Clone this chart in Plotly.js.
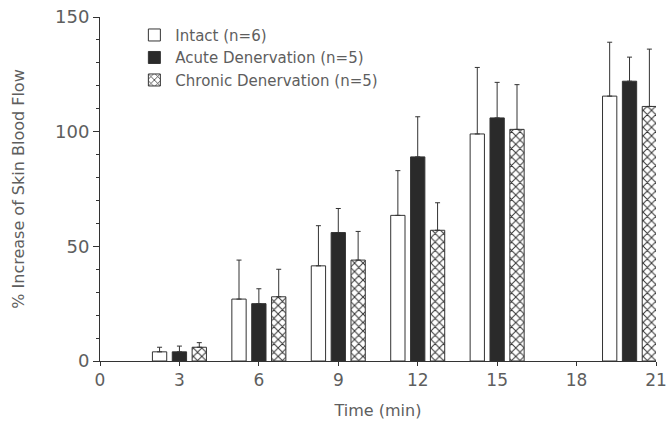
<!DOCTYPE html>
<html>
<head>
<meta charset="utf-8">
<script src="https://cdn.plot.ly/plotly-3.0.1.min.js"></script>
<style>
html,body{margin:0;padding:0;background:#fff;}
#chart{width:668px;height:423px;}
</style>
</head>
<body>
<div id="chart"></div>
<script>
// Data
var times = [3, 6, 9, 12, 15, 20];
var intactMean = [4, 27, 41.5, 63.5, 99, 115.5];
var intactErr = [2, 17, 17.5, 19.5, 29, 23.5];
var acuteMean = [4, 25, 56, 89, 106, 122];
var acuteErr = [2.5, 6.5, 10.5, 17.5, 15.5, 10.5];
var chronicMean = [6, 28, 44, 57, 101, 111];
var chronicErr = [2, 12, 12.5, 12, 19.5, 25];
var seriesNames = ['Intact (n=6)', 'Acute Denervation (n=5)', 'Chronic Denervation (n=5)'];
var xTickVals = [0, 3, 6, 9, 12, 15, 18, 21];
var yTickVals = [0, 50, 100, 150];

var textColor = '#5e5e5e';
var lineColor = '#333333';
var fontFamily = 'DejaVu Sans, sans-serif';

function errBar(arr) {
  return {type: 'data', array: arr, arrayminus: arr.map(function(){return 0;}), symmetric: false,
          visible: true, color: lineColor, thickness: 1, width: 2.5};
}

var traces = [
  {type: 'bar', name: seriesNames[0], x: times, y: intactMean, error_y: errBar(intactErr),
   marker: {color: '#ffffff', line: {color: lineColor, width: 1}}},
  {type: 'bar', name: seriesNames[1], x: times, y: acuteMean, error_y: errBar(acuteErr),
   marker: {color: '#2a2a2a', line: {color: lineColor, width: 1}}},
  {type: 'bar', name: seriesNames[2], x: times, y: chronicMean, error_y: errBar(chronicErr),
   marker: {color: '#ffffff', line: {color: lineColor, width: 1},
            pattern: {shape: 'x', bgcolor: '#ffffff', fgcolor: '#333333', size: 6, solidity: 0.3}}}
];

var layout = {
  width: 668, height: 423,
  margin: {l: 100, r: 12, t: 17, b: 62},
  paper_bgcolor: '#ffffff', plot_bgcolor: '#ffffff',
  font: {family: fontFamily, color: textColor, size: 16},
  barmode: 'group',
  bargap: 0.25,
  bargroupgap: 0.28,
  showlegend: true,
  legend: {x: 0.06, y: 0.995, xanchor: 'left', yanchor: 'top', bgcolor: 'rgba(0,0,0,0)',
           font: {family: fontFamily, size: 15, color: textColor}, tracegroupgap: 0, itemwidth: 32},
  xaxis: {
    range: [0, 21], tickvals: xTickVals, ticktext: xTickVals.map(String),
    showgrid: false, zeroline: false, showline: true, linecolor: lineColor, linewidth: 1,
    ticks: 'outside', ticklen: 4, tickcolor: lineColor, ticklabeloverflow: 'allow',
    tickfont: {family: fontFamily, size: 17, color: textColor},
    title: {text: 'Time (min)', font: {family: fontFamily, size: 16, color: textColor}, standoff: 15}
  },
  yaxis: {
    range: [0, 150], tickvals: yTickVals, ticktext: yTickVals.map(String),
    showgrid: false, zeroline: false, showline: true, linecolor: lineColor, linewidth: 1,
    ticks: 'outside', ticklen: 6, tickcolor: lineColor,
    minor: {dtick: 10, tick0: 0, ticks: 'outside', ticklen: 3, tickcolor: lineColor, showgrid: false},
    tickfont: {family: fontFamily, size: 18, color: textColor},
    title: {text: '% Increase of Skin Blood Flow', font: {family: fontFamily, size: 16, color: textColor}, standoff: 26}
  }
};

Plotly.newPlot('chart', traces, layout, {displayModeBar: false, staticPlot: true});
</script>
</body>
</html>
